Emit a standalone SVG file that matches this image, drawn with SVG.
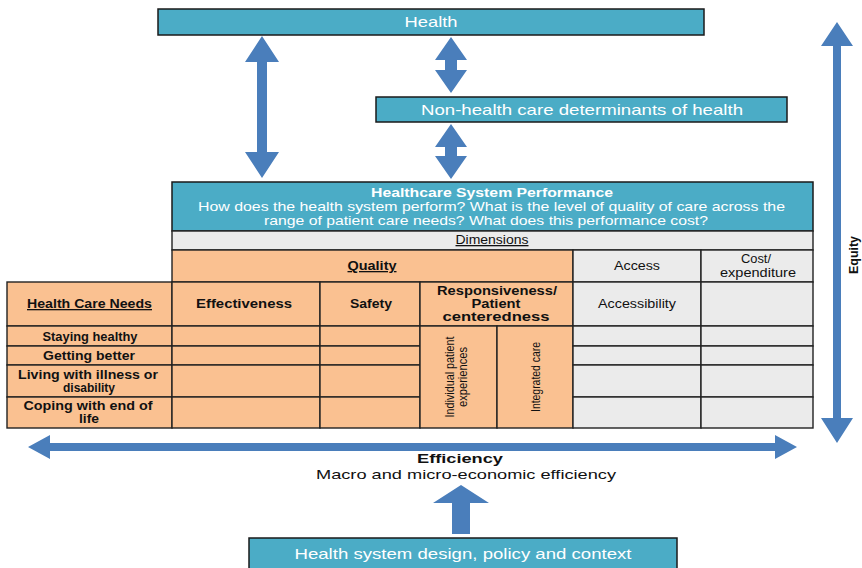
<svg xmlns="http://www.w3.org/2000/svg" width="862" height="568" viewBox="0 0 862 568">
<style>
.box{fill:#4bacc6;stroke:#1a1a1a;stroke-width:1.5}
.wt{font-family:"Liberation Sans",Arial,sans-serif;fill:#fff;text-anchor:middle}
.arr{fill:#4a7ebb}
.org{fill:#fac191;stroke:#222;stroke-width:1.4}
.gry{fill:#ebebeb;stroke:#222;stroke-width:1.4}
.t{font-family:"Liberation Sans",Arial,sans-serif;font-size:13px;fill:#111;text-anchor:middle}
.s{font-size:12px}
.b{font-weight:bold}
.u{text-decoration:underline}
</style>
<rect width="862" height="568" fill="#fff"/>
<g id="health"><rect class="box" x="158" y="9" width="546" height="26"/><text class="wt" x="431" y="27" font-size="15" textLength="53" lengthAdjust="spacingAndGlyphs">Health</text></g>
<g id="nonhealth"><rect class="box" x="376" y="97" width="411" height="25"/><text class="wt" x="582" y="115" font-size="15" textLength="322" lengthAdjust="spacingAndGlyphs">Non-health care determinants of health</text></g>
<g id="connectors">
<polygon class="arr" points="262,36 279,62 267,62 267,152 279,152 262,178 245,152 257,152 257,62 245,62"/>
<polygon class="arr" points="451,37 467,60 457,60 457,70 467,70 451,93 435,70 445,70 445,60 435,60"/>
<polygon class="arr" points="451,124 467,147 457,147 457,156 467,156 451,179 435,156 445,156 445,147 435,147"/>
<polygon class="arr" points="837,22 853,46 841,46 841,418 853,418 837,443 821,418 833,418 833,46 821,46"/>
<polygon class="arr" points="28,447 50,435 50,443 775,443 775,435 797,447 775,459 775,451 50,451 50,459"/>
<polygon class="arr" points="461,485 489,503 470,503 470,534 452,534 452,503 433,503"/>
</g>
<g id="equity"><text class="t b" x="0" y="0" font-size="13.5" textLength="38" lengthAdjust="spacingAndGlyphs" transform="translate(858,255) rotate(-90)">Equity</text></g>
<g id="efficiency"><text class="t b" x="460" y="463" font-size="14" textLength="86" lengthAdjust="spacingAndGlyphs">Efficiency</text><text class="t" x="466" y="479" font-size="14" textLength="300" lengthAdjust="spacingAndGlyphs">Macro and micro-economic efficiency</text></g>
<g id="design"><rect class="box" x="249" y="538" width="428" height="34"/><text class="wt" x="463" y="559" font-size="14.5" textLength="337" lengthAdjust="spacingAndGlyphs">Health system design, policy and context</text></g>
<g id="performance">
<rect class="box" x="172" y="182" width="641" height="49" stroke-width="1.4"/>
<text class="wt b" x="492" y="197" font-size="12.5" textLength="242" lengthAdjust="spacingAndGlyphs">Healthcare System Performance</text>
<text class="wt" x="491.5" y="211" font-size="13" textLength="587" lengthAdjust="spacingAndGlyphs">How does the health system perform? What is the level of quality of care across the</text>
<text class="wt" x="486" y="225" font-size="13" textLength="444" lengthAdjust="spacingAndGlyphs">range of patient care needs? What does this performance cost?</text>
</g>
<g id="table">
<rect class="gry" x="172" y="231" width="641" height="19"/>
<text class="t u" x="492" y="244" font-size="12" textLength="73" lengthAdjust="spacingAndGlyphs">Dimensions</text>
<rect class="org" x="172" y="250" width="401" height="32"/>
<text class="t b u" x="372" y="270" textLength="49" lengthAdjust="spacingAndGlyphs">Quality</text>
<rect class="gry" x="573" y="250" width="128" height="32"/>
<text class="t" x="637" y="270" textLength="46" lengthAdjust="spacingAndGlyphs">Access</text>
<rect class="gry" x="701" y="250" width="112" height="32"/>
<text class="t s" x="756" y="263" textLength="30" lengthAdjust="spacingAndGlyphs">Cost/</text><text class="t s" x="758" y="277" textLength="76" lengthAdjust="spacingAndGlyphs">expenditure</text>
<rect class="org" x="7" y="282" width="165" height="44"/>
<text class="t b u" x="89.5" y="308" textLength="125" lengthAdjust="spacingAndGlyphs">Health Care Needs</text>
<rect class="org" x="172" y="282" width="148" height="44"/>
<text class="t b" x="244" y="308" textLength="96" lengthAdjust="spacingAndGlyphs">Effectiveness</text>
<rect class="org" x="320" y="282" width="100" height="44"/>
<text class="t b" x="371" y="308" textLength="42" lengthAdjust="spacingAndGlyphs">Safety</text>
<rect class="org" x="420" y="282" width="153" height="44"/>
<text class="t b s" x="497" y="295" textLength="120" lengthAdjust="spacingAndGlyphs">Responsiveness/</text><text class="t b s" x="496" y="308" textLength="49" lengthAdjust="spacingAndGlyphs">Patient</text><text class="t b s" x="496" y="321" textLength="107" lengthAdjust="spacingAndGlyphs">centeredness</text>
<rect class="gry" x="573" y="282" width="128" height="44"/>
<text class="t" x="637" y="308" textLength="78" lengthAdjust="spacingAndGlyphs">Accessibility</text>
<rect class="gry" x="701" y="282" width="112" height="44"/>
<rect class="org" x="7" y="326" width="165" height="20"/><text class="t b" x="90" y="341" textLength="95" lengthAdjust="spacingAndGlyphs">Staying healthy</text>
<rect class="org" x="7" y="346" width="165" height="19"/><text class="t b" x="89" y="360" textLength="92" lengthAdjust="spacingAndGlyphs">Getting better</text>
<rect class="org" x="7" y="365" width="165" height="32"/><text class="t b s" x="88" y="379" textLength="140" lengthAdjust="spacingAndGlyphs">Living with illness or</text><text class="t b s" x="89" y="392" textLength="52" lengthAdjust="spacingAndGlyphs">disability</text>
<rect class="org" x="7" y="397" width="165" height="31"/><text class="t b s" x="88" y="410" textLength="129" lengthAdjust="spacingAndGlyphs">Coping with end of</text><text class="t b s" x="89" y="423" textLength="20" lengthAdjust="spacingAndGlyphs">life</text>
<rect class="org" x="172" y="326" width="148" height="20"/><rect class="org" x="172" y="346" width="148" height="19"/><rect class="org" x="172" y="365" width="148" height="32"/><rect class="org" x="172" y="397" width="148" height="31"/>
<rect class="org" x="320" y="326" width="100" height="20"/><rect class="org" x="320" y="346" width="100" height="19"/><rect class="org" x="320" y="365" width="100" height="32"/><rect class="org" x="320" y="397" width="100" height="31"/>
<rect class="org" x="420" y="326" width="77" height="102"/>
<rect class="org" x="497" y="326" width="76" height="102"/>
<text class="t" font-size="12" transform="translate(454,377) rotate(-90)"><tspan x="0" y="0" textLength="81" lengthAdjust="spacingAndGlyphs">Individual patient</tspan><tspan x="0" y="13" textLength="60" lengthAdjust="spacingAndGlyphs">experiences</tspan></text>
<text class="t" font-size="12.5" transform="translate(540,377) rotate(-90)" textLength="70" lengthAdjust="spacingAndGlyphs">Integrated care</text>
<rect class="gry" x="573" y="326" width="128" height="20"/><rect class="gry" x="573" y="346" width="128" height="19"/><rect class="gry" x="573" y="365" width="128" height="32"/><rect class="gry" x="573" y="397" width="128" height="31"/>
<rect class="gry" x="701" y="326" width="112" height="20"/><rect class="gry" x="701" y="346" width="112" height="19"/><rect class="gry" x="701" y="365" width="112" height="32"/><rect class="gry" x="701" y="397" width="112" height="31"/>
</g>
</svg>
